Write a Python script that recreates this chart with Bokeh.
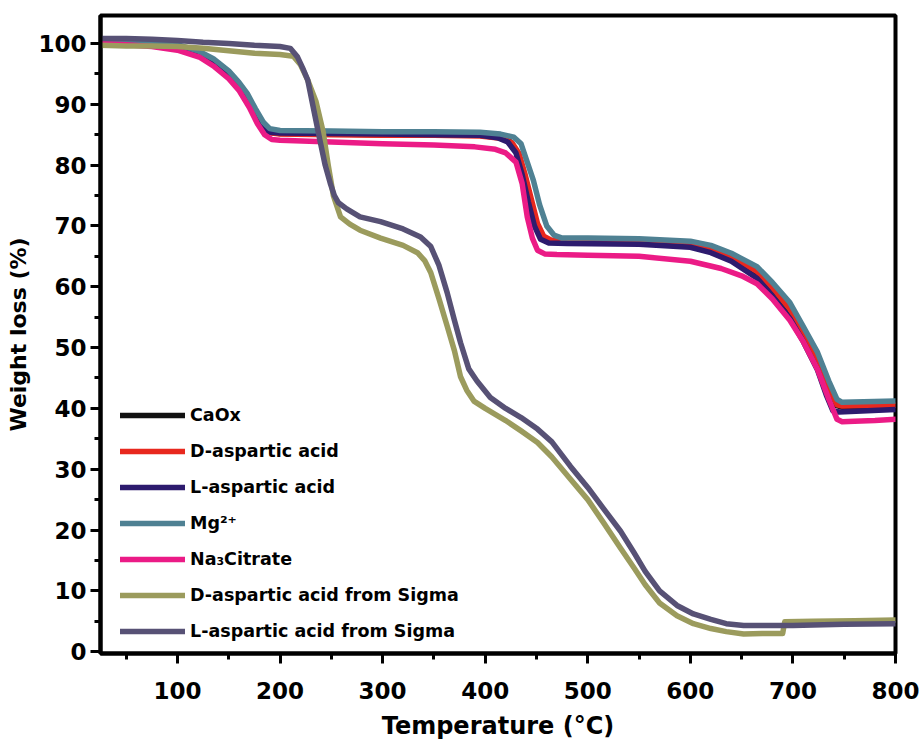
from bokeh.plotting import figure
from bokeh.models import Range1d, SingleIntervalTicker, Legend, LegendItem
from bokeh.embed import file_html
from bokeh.resources import INLINE

# ---------------- data ----------------
T_caox = [25, 50, 75, 100, 120, 135, 150, 160, 168, 176, 184, 190, 200, 250, 300, 350, 395, 415, 425, 432, 438, 444, 450, 456, 463, 480, 550, 600, 620, 640, 665, 680, 697, 710, 724, 735, 742, 748, 800]
W_caox = [100.3, 100.2, 100.0, 99.5, 98.5, 97.1, 95.0, 93.0, 91.0, 88.6, 86.2, 85.4, 85.2, 85.1, 85.0, 85.0, 84.9, 84.5, 83.8, 82.0, 78.5, 74.5, 70.5, 68.3, 67.6, 67.5, 67.3, 66.8, 66.0, 64.6, 62.0, 59.3, 55.8, 52.0, 47.5, 43.0, 40.5, 40.2, 40.3]

T_dasp = [25, 50, 75, 100, 120, 135, 150, 160, 168, 176, 184, 190, 200, 250, 300, 350, 395, 415, 426, 433, 439, 445, 451, 457, 464, 480, 550, 600, 620, 640, 665, 680, 697, 710, 724, 735, 743, 748, 800]
W_dasp = [100.2, 100.1, 99.9, 99.4, 98.4, 97.0, 94.9, 92.9, 90.9, 88.5, 86.1, 85.3, 85.1, 85.0, 84.9, 84.9, 84.8, 84.4, 83.7, 81.9, 78.4, 74.4, 70.4, 68.3, 67.7, 67.6, 67.4, 67.0, 66.3, 65.0, 62.5, 59.8, 56.3, 52.5, 48.0, 43.5, 40.6, 40.4, 40.5]

T_lasp = [25, 50, 75, 100, 120, 135, 150, 160, 168, 176, 184, 190, 200, 250, 300, 350, 395, 412, 422, 430, 436, 442, 448, 454, 462, 480, 550, 600, 620, 640, 665, 680, 697, 710, 724, 733, 739, 745, 800]
W_lasp = [100.4, 100.3, 100.0, 99.5, 98.4, 97.0, 94.9, 92.9, 90.9, 88.4, 86.0, 85.4, 85.3, 85.2, 85.1, 85.0, 84.9, 84.5, 83.8, 82.0, 78.5, 74.0, 70.0, 67.8, 67.2, 67.1, 67.0, 66.5, 65.6, 64.2, 61.4, 58.5, 54.8, 51.0, 46.3, 42.0, 39.6, 39.4, 39.8]

T_mg = [25, 50, 75, 100, 120, 135, 150, 160, 168, 176, 184, 190, 200, 250, 300, 350, 395, 415, 428, 435, 441, 447, 453, 460, 467, 475, 500, 550, 600, 620, 640, 665, 680, 697, 710, 724, 735, 743, 748, 800]
W_mg = [100.5, 100.4, 100.2, 99.8, 98.8, 97.5, 95.5, 93.6, 91.8, 89.3, 87.0, 86.0, 85.7, 85.6, 85.5, 85.5, 85.4, 85.1, 84.6, 83.5, 80.5, 77.5, 73.5, 70.0, 68.5, 68.0, 68.0, 67.9, 67.5, 66.8, 65.5, 63.3, 60.7, 57.4, 53.5, 49.2, 44.5, 41.5, 41.0, 41.2]

T_na = [25, 50, 75, 100, 122, 135, 150, 160, 170, 178, 185, 192, 200, 250, 300, 350, 390, 410, 420, 430, 436, 441, 446, 451, 458, 470, 500, 550, 600, 630, 650, 665, 680, 697, 710, 724, 735, 743, 748, 760, 780, 800]
W_na = [100.0, 99.8, 99.5, 98.9, 97.7, 96.3, 94.2, 92.3, 89.5, 86.8, 85.0, 84.2, 84.1, 83.8, 83.5, 83.3, 83.0, 82.6, 82.0, 80.5, 77.0, 71.5, 68.0, 66.0, 65.4, 65.3, 65.2, 65.0, 64.2, 63.0, 61.8, 60.5, 58.0, 54.5, 51.0, 46.4, 41.5, 38.2, 37.8, 37.9, 38.0, 38.2]

T_dsig = [25, 50, 75, 100, 125, 150, 175, 200, 213, 220, 227, 235, 242, 247, 252, 259, 268, 278, 298, 320, 334, 341, 347, 355, 363, 370, 376, 382, 389, 400, 420, 435, 451, 465, 483, 500, 515, 532, 545, 556, 570, 587, 603, 620, 635, 652, 670, 690, 692, 720, 760, 800]
W_dsig = [99.7, 99.6, 99.6, 99.5, 99.2, 98.8, 98.4, 98.2, 97.9, 96.5, 94.0, 90.5, 85.5, 80.0, 75.0, 71.5, 70.3, 69.3, 68.0, 66.8, 65.6, 64.3, 62.3, 58.0, 53.5, 49.5, 45.2, 43.0, 41.2, 40.0, 38.0, 36.3, 34.4, 32.0, 28.4, 25.0, 21.3, 17.0, 13.8, 11.0, 8.0, 5.9, 4.6, 3.8, 3.3, 2.9, 3.0, 3.0, 4.9, 5.0, 5.1, 5.2]

T_lsig = [25, 50, 75, 100, 125, 150, 175, 200, 210, 217, 222, 227, 233, 239, 244, 249, 253, 257, 265, 278, 298, 320, 337, 347, 355, 363, 370, 376, 384, 392, 405, 420, 435, 451, 465, 483, 500, 515, 532, 545, 556, 570, 587, 603, 620, 635, 652, 700, 750, 800]
W_lsig = [100.8, 100.8, 100.7, 100.5, 100.2, 100.0, 99.7, 99.5, 99.2, 97.8, 96.0, 94.0, 89.0, 84.0, 80.0, 77.0, 75.0, 73.8, 72.8, 71.5, 70.7, 69.5, 68.2, 66.6, 63.5, 59.0, 54.5, 50.8, 46.5, 44.5, 41.8, 40.0, 38.5, 36.6, 34.5, 30.5, 27.0, 23.6, 19.8, 16.3, 13.2, 10.0, 7.6, 6.2, 5.3, 4.6, 4.3, 4.3, 4.5, 4.6]

labels = ["CaOx", "D-aspartic acid", "L-aspartic acid", "Mg\u00b2\u207a", "Na\u2083Citrate",
          "D-aspartic acid from Sigma", "L-aspartic acid from Sigma"]
colors = ["#111111", "#e8281e", "#2d1b6e", "#4f8193", "#eb1b86", "#9b9b5d", "#575175"]
x_ticks_interval = 100
y_ticks_interval = 10

series = [(T_caox, W_caox), (T_dasp, W_dasp), (T_lasp, W_lasp), (T_mg, W_mg),
          (T_na, W_na), (T_dsig, W_dsig), (T_lsig, W_lsig)]

# ---------------- figure ----------------
p = figure(width=920, height=742, output_backend="svg", toolbar_location=None,
           x_range=Range1d(25, 800), y_range=Range1d(-0.3, 104.6),
           min_border_left=100, min_border_right=25, min_border_top=15, min_border_bottom=87)
p.background_fill_color = "white"
p.border_fill_color = "white"
p.xgrid.visible = False
p.ygrid.visible = False
p.outline_line_color = "black"
p.outline_line_width = 4

renderers = []
for (t, w), c in zip(series, colors):
    r = p.line(t, w, line_color=c, line_width=5.5, line_join="round", line_cap="round")
    renderers.append(r)

legend = Legend(items=[LegendItem(label=l, renderers=[r]) for l, r in zip(labels, renderers)],
                location=(20, 12), orientation="vertical",
                glyph_width=65, glyph_height=20, label_height=20, spacing=16,
                label_standoff=5, padding=0, margin=0,
                background_fill_alpha=0, border_line_alpha=0,
                label_text_font="DejaVu Sans", label_text_font_style="bold",
                label_text_font_size="17.5px", label_text_color="black")
p.add_layout(legend, "center")

for ax in (p.xaxis[0], p.yaxis[0]):
    ax.axis_line_width = 4
    ax.axis_line_color = "black"
    ax.major_tick_line_width = 3
    ax.minor_tick_line_width = 3
    ax.major_tick_in = 0
    ax.major_tick_out = 10
    ax.minor_tick_in = 0
    ax.minor_tick_out = 6
    ax.major_label_text_font = "DejaVu Sans"
    ax.major_label_text_font_style = "bold"
    ax.major_label_text_font_size = "23px"
    ax.major_label_text_color = "black"
    ax.axis_label_text_font = "DejaVu Sans"
    ax.axis_label_text_font_style = "bold"
    ax.axis_label_text_color = "black"

p.xaxis.ticker = SingleIntervalTicker(interval=x_ticks_interval, num_minor_ticks=2)
p.yaxis.ticker = SingleIntervalTicker(interval=y_ticks_interval, num_minor_ticks=2)
p.xaxis.axis_label = "Temperature (\u00b0C)"
p.yaxis.axis_label = "Weight loss (%)"
p.xaxis.axis_label_text_font_size = "24px"
p.yaxis.axis_label_text_font_size = "22px"
p.xaxis.major_label_standoff = 18
p.yaxis.major_label_standoff = 4
p.xaxis.axis_label_standoff = 10
p.yaxis.axis_label_standoff = 4

open("out.html", "w").write(file_html(p, INLINE))
